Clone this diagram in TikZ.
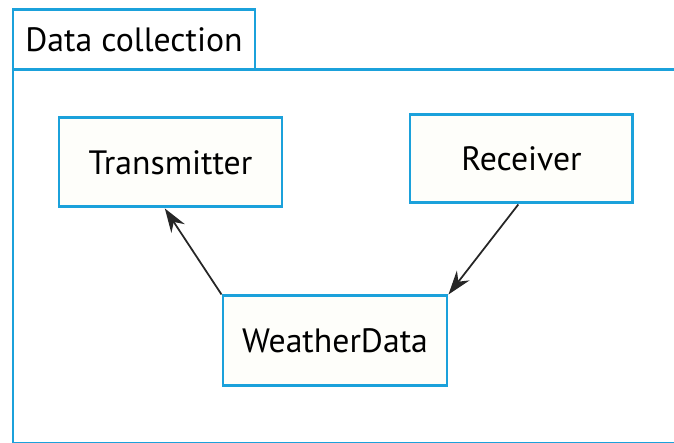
\documentclass[tikz,border=0pt]{standalone}
\usepackage{fontspec}
\setmainfont{PT Sans}
\usepackage{tikz}
\usetikzlibrary{arrows.meta}
\definecolor{pkgblue}{RGB}{27,161,219}
\definecolor{classfill}{RGB}{254,254,250}

\begin{document}
\begin{tikzpicture}[
    classbox/.style={draw=pkgblue, line width=0.85pt, fill=classfill, minimum width=2.23cm, minimum height=0.89cm, inner sep=0pt, font=\fontsize{9.6}{11}\selectfont},
    dep/.style={-{Stealth[length=2.4mm, width=1.6mm]}, line width=0.5pt, draw=black!85}
  ]
    \useasboundingbox (0, 0) rectangle (6.74, 4.43);
    \clip (0, 0) rectangle (6.74, 4.43);
    \coordinate (p1) at (1.705, 2.805);
    \coordinate (p2) at (5.215, 2.84);
    \coordinate (p3) at (3.35, 1.02);
    \coordinate (p4) at (1.34, 4.03);
    % package frame and its tab
    \draw[draw=pkgblue, line width=0.85pt] (0.13, -0.01) rectangle (7, 3.73);
    \node[classbox, fill=white, minimum width=2.42cm, minimum height=0.6cm] (tab) at (p4) {Data collection};
    \node[classbox] (trans) at (p1) {Transmitter};
    \node[classbox, minimum height=0.88cm] (recv) at (p2) {Receiver};
    \node[classbox, minimum width=2.24cm, minimum height=0.9cm] (wdata) at (p3) {WeatherData};
    \draw[dep] (wdata.north west) -- (trans.-97);
    \draw[dep] (recv.-94.5) -- (wdata.north east);
  \end{tikzpicture}
\end{document}
